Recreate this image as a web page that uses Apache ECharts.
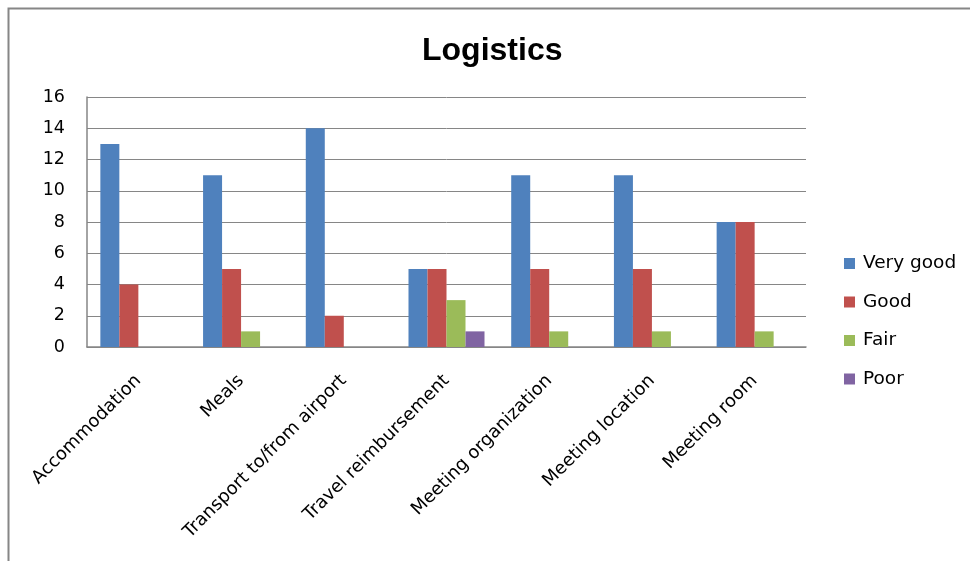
<!DOCTYPE html>
<html>
<head>
<meta charset="utf-8">
<script src="https://cdn.jsdelivr.net/npm/echarts@6/dist/echarts.min.js"></script>
<style>
html,body{margin:0;padding:0;background:#fff;}
#c{width:970px;height:561px;}
</style>
</head>
<body>
<div id="c"></div>
<script>
const categories = ["Accommodation","Meals","Transport to/from airport","Travel reimbursement","Meeting organization","Meeting location","Meeting room"];
const veryGood = [13,11,14,5,11,11,8];
const good = [4,5,2,5,5,5,8];
const fair = [0,1,0,3,1,1,1];
const poor = [0,0,0,1,0,0,0];
const yTicks = {min:0, max:16, interval:2};

const chart = echarts.init(document.getElementById('c'), null, {renderer:'canvas'});
const font = 'DejaVu Sans';
function bar(name, data, color){
  return {name, type:'bar', data, barGap:'0%', barCategoryGap:'26%', itemStyle:{color}};
}
chart.setOption({
  animation:false,
  backgroundColor:'#fff',
  graphic:[{type:'polyline', shape:{points:[[8.5,561],[8.5,8.5],[970,8.5]]}, style:{stroke:'#868686', lineWidth:2, fill:null}, silent:true}],
  title:{text:'Logistics', left:417, top:30,
    textStyle:{fontFamily:'Liberation Sans', fontWeight:'bold', fontSize:32, color:'#000'}},
  legend:{orient:'vertical', left:839, top:249, itemWidth:11, itemHeight:11, itemGap:19.5,
    icon:'rect',
    textStyle:{fontFamily:font, fontSize:18.5, color:'#000', lineHeight:18.5, padding:[0,0,0,3]},
    data:['Very good','Good','Fair','Poor']},
  grid:{left:87, right:164, top:97, bottom:214, containLabel:false},
  xAxis:{type:'category', data:categories,
    axisLine:{lineStyle:{color:'#868686', width:1.5}},
    axisTick:{show:false},
    axisLabel:{interval:0, rotate:45, margin:31, fontFamily:font, fontSize:18, color:'#000'}},
  yAxis:{type:'value', min:yTicks.min, max:yTicks.max, interval:yTicks.interval,
    axisLine:{show:true, lineStyle:{color:'#868686', width:1.5}},
    axisTick:{show:false},
    splitLine:{lineStyle:{color:'#868686', width:1}},
    axisLabel:{margin:22, fontFamily:font, fontSize:17.5, color:'#000', padding:[5,0,0,0]}},
  series:[
    bar('Very good', veryGood, '#4F81BD'),
    bar('Good', good, '#C0504D'),
    bar('Fair', fair, '#9BBB59'),
    bar('Poor', poor, '#8064A2')
  ]
});
</script>
</body>
</html>
